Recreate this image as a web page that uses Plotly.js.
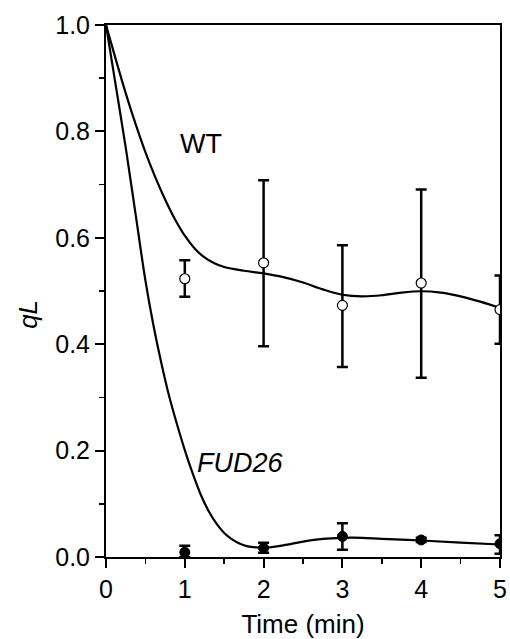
<!DOCTYPE html>
<html><head><meta charset="utf-8">
<script src="https://cdn.plot.ly/plotly-3.0.1.min.js"></script>
<style>html,body{margin:0;padding:0;background:#fff}</style>
</head><body><div id="chart" style="width:510px;height:639px"></div>
<script>
// Measured points
const timePoints = [1, 2, 3, 4, 5];
const wtMean = [0.523, 0.553, 0.473, 0.515, 0.465];
const wtErrPlus = [0.035, 0.155, 0.113, 0.176, 0.064];
const wtErrMinus = [0.034, 0.157, 0.116, 0.178, 0.064];
const fudMean = [0.009, 0.017, 0.0386, 0.032, 0.025];
const fudErrPlus = [0.012, 0.010, 0.025, 0.004, 0.016];
const fudErrMinus = [0.009, 0.009, 0.025, 0.004, 0.019];

// Fitted curves
const wtFitX = [0, 0.125, 0.25, 0.375, 0.5, 0.625, 0.75, 0.875, 1.0, 1.125, 1.25, 1.375, 1.5, 1.75, 2.0, 2.25, 2.5, 2.75, 3.0, 3.25, 3.5, 3.75, 4.0, 4.25, 4.5, 4.75, 5.0];
const wtFitY = [1.0, 0.935, 0.872, 0.814, 0.761, 0.714, 0.672, 0.635, 0.604, 0.580, 0.563, 0.552, 0.545, 0.538, 0.533, 0.526, 0.516, 0.503, 0.493, 0.490, 0.492, 0.497, 0.4995, 0.497, 0.490, 0.480, 0.468];
const fudFitX = [0, 0.125, 0.25, 0.375, 0.5, 0.6, 0.7, 0.8, 0.9, 1.0, 1.1, 1.2, 1.3, 1.4, 1.5, 1.6, 1.7, 1.8, 1.9, 2.0, 2.25, 2.5, 2.75, 3.0, 3.25, 3.5, 4.0, 4.5, 5.0];
const fudFitY = [1.0, 0.885, 0.77, 0.645, 0.52, 0.437, 0.366, 0.303, 0.250, 0.201, 0.157, 0.118, 0.087, 0.063, 0.045, 0.033, 0.025, 0.020, 0.018, 0.0175, 0.022, 0.029, 0.034, 0.036, 0.036, 0.034, 0.031, 0.027, 0.0235];

const FONT = 'Liberation Sans, Arial, sans-serif';

const traces = [
  {x: wtFitX, y: wtFitY, mode: 'lines', line: {color: '#000', width: 2.2, shape: 'spline', smoothing: 1}, hoverinfo: 'skip', showlegend: false},
  {x: fudFitX, y: fudFitY, mode: 'lines', line: {color: '#000', width: 2.2, shape: 'spline', smoothing: 1}, hoverinfo: 'skip', showlegend: false},
  {x: timePoints, y: wtMean, mode: 'markers', name: 'WT',
   marker: {symbol: 'circle', size: 10, color: '#fff', line: {color: '#000', width: 1.2}},
   error_y: {type: 'data', symmetric: false, array: wtErrPlus, arrayminus: wtErrMinus, color: '#000', thickness: 2.5, width: 5.5},
   showlegend: false},
  {x: timePoints, y: fudMean, mode: 'markers', name: 'FUD26',
   marker: {symbol: 'circle', size: 10, color: '#000', line: {color: '#000', width: 1}},
   error_y: {type: 'data', symmetric: false, array: fudErrPlus, arrayminus: fudErrMinus, color: '#000', thickness: 2.5, width: 5.5},
   showlegend: false}
];

const layout = {
  width: 510, height: 639,
  margin: {l: 106, r: 10, t: 25, b: 82},
  paper_bgcolor: '#fff', plot_bgcolor: '#fff',
  font: {family: FONT, color: '#000', size: 25},
  xaxis: {
    range: [0, 5], dtick: 1, tick0: 0, showgrid: false, zeroline: false,
    showline: true, mirror: true, linecolor: '#000', linewidth: 2,
    ticks: 'outside', ticklen: 9, tickwidth: 2, tickcolor: '#000',
    minor: {dtick: 0.5, ticks: 'outside', ticklen: 5, tickwidth: 1.5, tickcolor: '#000', showgrid: false},
    tickfont: {family: FONT, size: 25},
    title: {text: 'Time (min)', font: {family: FONT, size: 26}, standoff: 15},
    automargin: false
  },
  yaxis: {
    range: [0, 1], dtick: 0.2, tick0: 0, tickformat: '.1f', showgrid: false, zeroline: false,
    showline: true, mirror: true, linecolor: '#000', linewidth: 2,
    ticks: 'outside', ticklen: 9, tickwidth: 2, tickcolor: '#000',
    minor: {dtick: 0.1, ticks: 'outside', ticklen: 5, tickwidth: 1.5, tickcolor: '#000', showgrid: false},
    tickfont: {family: FONT, size: 25},
    automargin: false
  },
  annotations: [
    {text: 'WT', x: 1.2, y: 0.776, xref: 'x', yref: 'y', showarrow: false, font: {family: FONT, size: 27}},
    {text: '<i>FUD26</i>', x: 1.713, y: 0.176, xref: 'x', yref: 'y', showarrow: false, font: {family: FONT, size: 27}},
    {text: '<i>qL</i>', x: -0.198, y: 0.457, xref: 'paper', yref: 'paper', xanchor: 'center', yanchor: 'middle', textangle: -90, showarrow: false, font: {family: FONT, size: 26}}
  ]
};

Plotly.newPlot('chart', traces, layout, {staticPlot: true, displayModeBar: false});
</script></body></html>
